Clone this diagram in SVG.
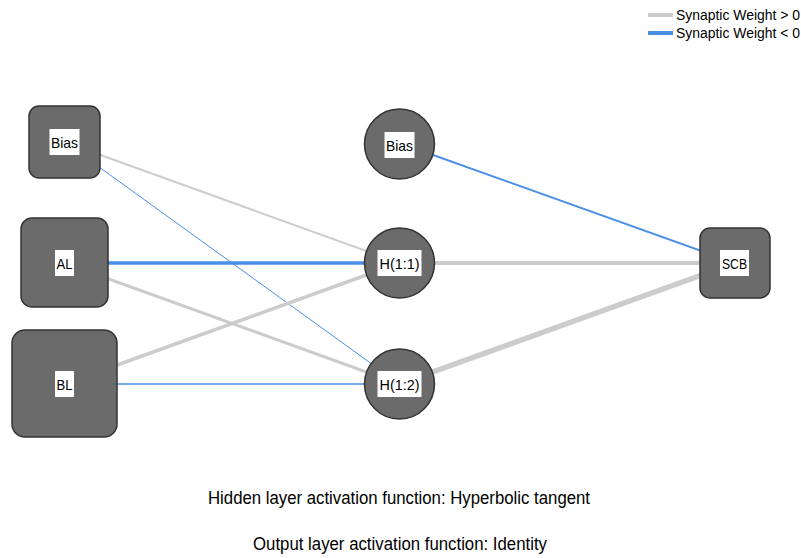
<svg xmlns="http://www.w3.org/2000/svg" width="801" height="558" viewBox="0 0 801 558">
<style>
.node{fill:#6b6b6b;stroke:#333333;stroke-width:1.5}
.lbl{fill:#ffffff}
.t{font-family:"Liberation Sans Narrow","Liberation Sans",Arial,sans-serif;fill:#000000}
.nt{font-size:15px;text-anchor:middle}
.pos{stroke:#cccccc;fill:none}
.neg{stroke:#4a8fe7;fill:none}
</style>
<rect width="801" height="558" fill="#ffffff"/>
<g id="legend">
<line class="pos" x1="648" y1="15" x2="673" y2="15" stroke-width="4"/>
<text class="t" x="676" y="20" font-size="14" textLength="124" lengthAdjust="spacingAndGlyphs">Synaptic Weight &gt; 0</text>
<line class="neg" x1="648" y1="33" x2="673" y2="33" stroke-width="4"/>
<text class="t" x="676" y="38" font-size="14" textLength="124" lengthAdjust="spacingAndGlyphs">Synaptic Weight &lt; 0</text>
</g>
<g id="connectors">
<line class="pos" x1="64.5" y1="142" x2="399.5" y2="263" stroke-width="2"/>
<line class="neg" x1="64.5" y1="142" x2="399.5" y2="384" stroke-width="1"/>
<line class="neg" x1="64.5" y1="263" x2="399.5" y2="263" stroke-width="3.5"/>
<line class="pos" x1="64.5" y1="263" x2="399.5" y2="384" stroke-width="3"/>
<line class="pos" x1="64.5" y1="384" x2="399.5" y2="263" stroke-width="3.5"/>
<line class="neg" x1="64.5" y1="384" x2="399.5" y2="384" stroke-width="1.5"/>
<line class="neg" x1="399.5" y1="143" x2="735" y2="263" stroke-width="2"/>
<line class="pos" x1="399.5" y1="263" x2="735" y2="263" stroke-width="4"/>
<line class="pos" x1="399.5" y1="384" x2="735" y2="263" stroke-width="5.5"/>
</g>
<g id="in_bias">
<rect class="node" x="29" y="106" width="71" height="72" rx="10"/>
<rect class="lbl" x="49.5" y="129" width="30" height="26"/>
<text class="t nt" x="64.5" y="147.5" textLength="27" lengthAdjust="spacingAndGlyphs">Bias</text>
</g>
<g id="in_AL">
<rect class="node" x="21" y="218" width="87" height="89" rx="11"/>
<rect class="lbl" x="55" y="250" width="19" height="26"/>
<text class="t nt" x="64.5" y="268.5" textLength="16" lengthAdjust="spacingAndGlyphs">AL</text>
</g>
<g id="in_BL">
<rect class="node" x="12" y="330" width="105" height="107" rx="13"/>
<rect class="lbl" x="55" y="371" width="19" height="26"/>
<text class="t nt" x="64.5" y="389.5" textLength="16" lengthAdjust="spacingAndGlyphs">BL</text>
</g>
<g id="h_bias">
<circle class="node" cx="399.5" cy="144" r="35"/>
<rect class="lbl" x="384.5" y="132" width="30" height="26"/>
<text class="t nt" x="399.5" y="150.5" textLength="27" lengthAdjust="spacingAndGlyphs">Bias</text>
</g>
<g id="h11">
<circle class="node" cx="399.5" cy="263" r="35"/>
<rect class="lbl" x="377.5" y="250" width="44" height="26"/>
<text class="t nt" x="399.5" y="268.5" textLength="40" lengthAdjust="spacingAndGlyphs">H(1:1)</text>
</g>
<g id="h12">
<circle class="node" cx="399.5" cy="384" r="35"/>
<rect class="lbl" x="377.5" y="371" width="44" height="26"/>
<text class="t nt" x="399.5" y="389.5" textLength="40" lengthAdjust="spacingAndGlyphs">H(1:2)</text>
</g>
<g id="out_SCB">
<rect class="node" x="700" y="228" width="70" height="70" rx="10"/>
<rect class="lbl" x="720" y="250" width="29" height="26"/>
<text class="t nt" x="734.5" y="268.5" textLength="25" lengthAdjust="spacingAndGlyphs">SCB</text>
</g>
<g id="captions">
<text class="t" x="399" y="503.5" font-size="17.5" text-anchor="middle" textLength="382" lengthAdjust="spacingAndGlyphs">Hidden layer activation function: Hyperbolic tangent</text>
<text class="t" x="400" y="549.5" font-size="17.5" text-anchor="middle" textLength="294" lengthAdjust="spacingAndGlyphs">Output layer activation function: Identity</text>
</g>
</svg>
